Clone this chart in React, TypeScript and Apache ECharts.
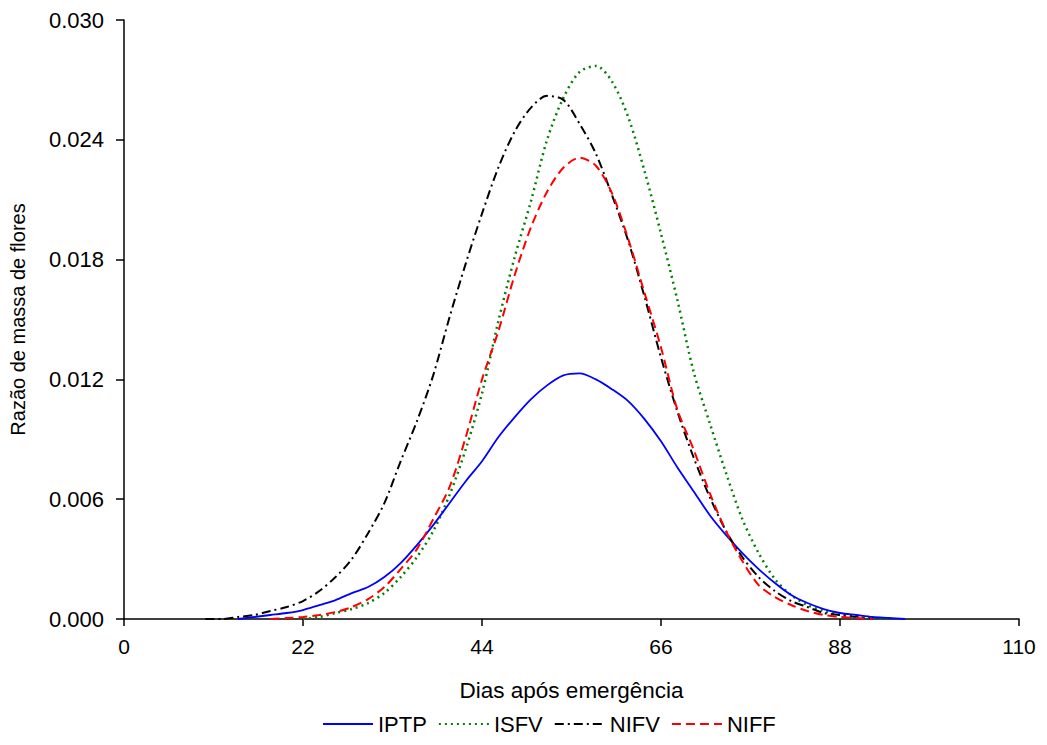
import React, { useEffect, useRef } from "react";
import * as echarts from "echarts";

const days = [10,12,14,16,18,20,22,24,26,28,30,32,34,36,38,40,42,44,46,48,50,52,54,56,58,60,62,64,66,68,70,72,74,76,78,80,82,84,86,88,90,92,94,96];

const iptp = [null,null,0,0.0001,0.0002,0.0003,0.00045,0.0007,0.00095,0.0013,0.0016,0.0021,0.0028,0.0037,0.0047,0.0058,0.0069,0.0079,0.0091,0.0101,0.0110,0.0117,0.0122,0.0123,0.0120,0.0115,0.0109,0.0100,0.0089,0.0076,0.0064,0.0052,0.0042,0.0033,0.0025,0.0018,0.0012,0.0008,0.0005,0.0003,0.0002,0.0001,0.00005,0];

const isfv = [null,null,null,null,null,null,0,0.0001,0.0003,0.0005,0.0008,0.0013,0.0021,0.0031,0.0044,0.0062,0.0085,0.0113,0.0149,0.0181,0.0209,0.0240,0.0261,0.0274,0.0277,0.0269,0.0251,0.0224,0.0193,0.0160,0.0124,0.0098,0.0073,0.0050,0.0033,0.0020,0.0012,0.0007,0.0004,0.0002,0.0001,0.00003,0,null];

const nifv = [0,0,0.0001,0.0002,0.0004,0.0006,0.0009,0.0014,0.0021,0.0030,0.0043,0.0058,0.0079,0.0099,0.0122,0.0151,0.0178,0.0203,0.0226,0.0244,0.0256,0.0262,0.0260,0.0248,0.0233,0.0212,0.0189,0.0161,0.0131,0.0104,0.0081,0.0061,0.0044,0.0031,0.0021,0.0014,0.0009,0.0006,0.0003,0.0002,0.0001,0,null,null];

const niff = [null,null,null,null,0,0.00005,0.0001,0.0002,0.00035,0.0006,0.0010,0.0016,0.0025,0.0035,0.0050,0.0066,0.0091,0.0120,0.0144,0.0172,0.0196,0.0214,0.0226,0.0231,0.0227,0.0213,0.0190,0.0163,0.0136,0.0105,0.0085,0.0063,0.0044,0.0029,0.0017,0.0011,0.0007,0.0004,0.0002,0.0001,0.00005,0,null,null];

const seriesNames = ["IPTP", "ISFV", "NIFV", "NIFF"];
const seriesColors = ["#0000FF", "#008000", "#000000", "#FF0000"];

const font = "'Liberation Sans', Arial, sans-serif";

function toPairs(vals: (number | null)[]) {
  const out: [number, number][] = [];
  vals.forEach((v, i) => {
    if (v !== null) out.push([days[i], v]);
  });
  return out;
}

export default function App() {
  const ref = useRef<HTMLDivElement>(null);
  useEffect(() => {
    if (!ref.current) return;
    const chart = echarts.init(ref.current, undefined, { renderer: "svg" });
    const styles: any[] = [
      { width: 1.8, type: "solid" },
      { width: 2.5, type: [2, 4] },
      { width: 2, type: [9, 4, 2, 4] },
      { width: 2, type: [9, 5] },
    ];
    const datas = [iptp, isfv, nifv, niff];
    chart.setOption({
      animation: false,
      backgroundColor: "#ffffff",
      grid: { left: 120, right: 28, top: 20, bottom: 126, containLabel: false },
      legend: {
        top: 708,
        left: 317,
        padding: 5,
        itemWidth: 50,
        itemHeight: 12,
        itemGap: 11,
        itemStyle: { opacity: 0, borderWidth: 0 },
        textStyle: { fontFamily: font, fontSize: 22, color: "#000" },
        data: seriesNames,
      },
      xAxis: {
        type: "value",
        min: 0,
        max: 110,
        interval: 22,
        name: "Dias após emergência",
        nameLocation: "middle",
        nameGap: 60,
        nameTextStyle: { fontFamily: font, fontSize: 22.5, color: "#000" },
        axisLine: { show: true, lineStyle: { color: "#000", width: 1.5 } },
        axisTick: { show: true, length: 7, lineStyle: { color: "#000", width: 1.5 } },
        axisLabel: { fontFamily: font, fontSize: 21, color: "#000", margin: 17 },
        splitLine: { show: false },
      },
      yAxis: {
        type: "value",
        min: 0,
        max: 0.03,
        interval: 0.006,
        name: "Razão de massa de flores",
        nameLocation: "middle",
        nameGap: 96,
        nameTextStyle: { fontFamily: font, fontSize: 20, color: "#000" },
        axisLine: { show: true, lineStyle: { color: "#000", width: 1.5 } },
        axisTick: { show: true, length: 8, lineStyle: { color: "#000", width: 1.5 } },
        axisLabel: {
          fontFamily: font,
          fontSize: 22,
          color: "#000",
          margin: 20,
          formatter: (v: number) => v.toFixed(3),
        },
        splitLine: { show: false },
      },
      series: seriesNames.map((name, i) => ({
        name,
        type: "line",
        data: toPairs(datas[i]),
        smooth: 0.3,
        showSymbol: false,
        symbol: "none",
        color: seriesColors[i],
        lineStyle: { color: seriesColors[i], ...styles[i] },
        z: [3, 2, 4, 5][i],
      })),
    });
    return () => chart.dispose();
  }, []);
  return (
    <div
      ref={ref}
      style={{ position: "fixed", left: 0, top: 0, width: 1047, height: 745 }}
    />
  );
}
